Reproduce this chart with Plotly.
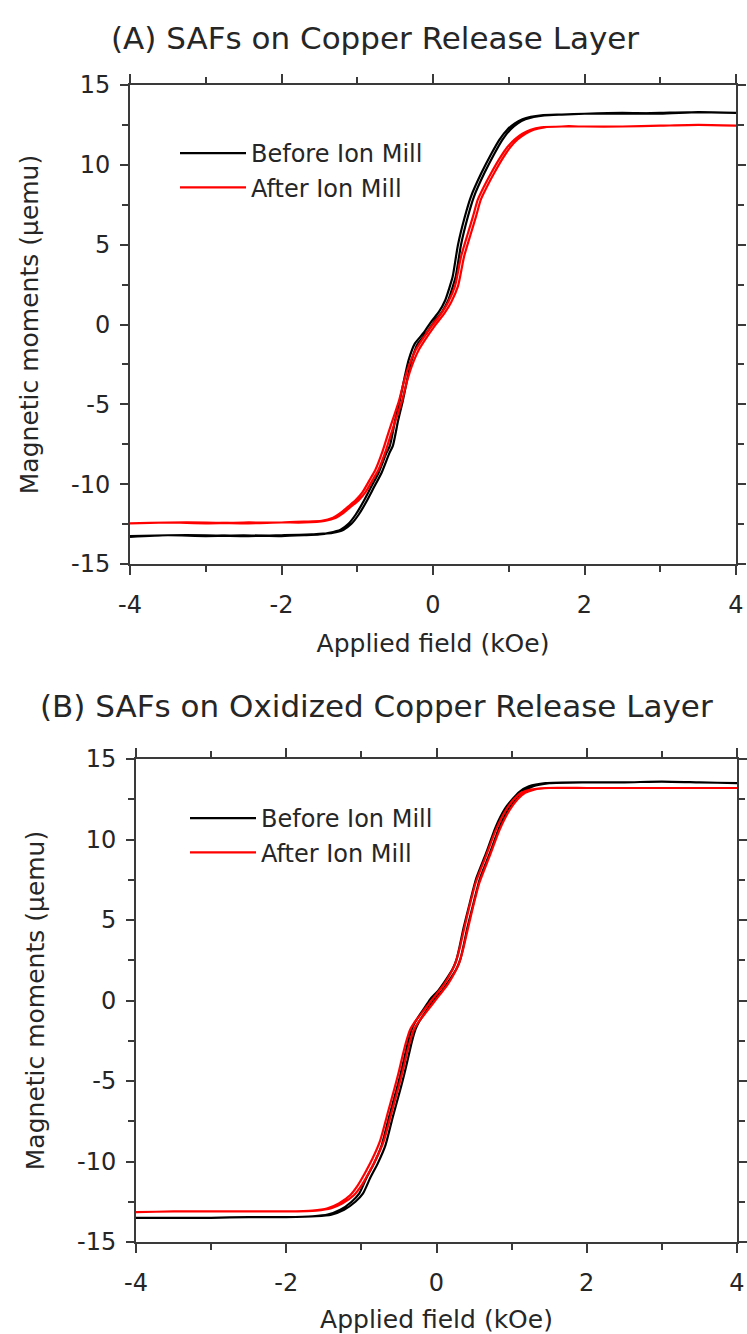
import plotly.graph_objects as go

# ---------------- data ----------------
# Panel A : SAFs on Copper Release Layer
a_before_field_up = [-4.0, -3.5, -3.0, -2.5, -2.0, -1.6, -1.45, -1.33, -1.18, -1.08, -0.98, -0.88, -0.78, -0.68, -0.58,
                     -0.53, -0.46, -0.40, -0.33, -0.28, -0.20, -0.08, 0.02, 0.12, 0.20, 0.25, 0.30, 0.37, 0.46, 0.54,
                     0.68, 0.81, 0.92, 1.02, 1.12, 1.22, 1.33, 1.47, 1.7, 2.0, 2.5, 3.0, 3.5, 4.0]
a_before_moment_up = [-13.25, -13.2, -13.2, -13.25, -13.2, -13.15, -13.1, -13.05, -12.85, -12.5, -11.9, -11.1, -10.2, -9.3, -8.1,
                      -7.6, -6.0, -4.8, -3.2, -2.2, -1.2, -0.5, 0.2, 0.8, 1.5, 2.2, 3.0, 5.0, 6.75, 8.0,
                      9.5, 10.7, 11.6, 12.2, 12.6, 12.85, 13.0, 13.1, 13.15, 13.2, 13.2, 13.25, 13.3, 13.25]
a_before_field_down = [4.0, 3.5, 3.0, 2.5, 2.0, 1.7, 1.43, 1.29, 1.18, 1.08, 0.98, 0.88, 0.77, 0.64, 0.50, 0.42,
                       0.33, 0.26, 0.21, 0.16, 0.08, -0.02, -0.12, -0.24, -0.32, -0.37, -0.44, -0.50, -0.57, -0.62,
                       -0.72, -0.82, -0.92, -1.02, -1.12, -1.22, -1.37, -1.5, -1.7, -2.0, -2.5, -3.0, -3.5, -4.0]
a_before_moment_down = [13.25, 13.3, 13.2, 13.25, 13.2, 13.15, 13.1, 13.0, 12.85, 12.6, 12.2, 11.6, 10.7, 9.5, 8.0, 6.75,
                        5.0, 3.0, 2.2, 1.5, 0.8, 0.2, -0.5, -1.2, -2.2, -3.2, -4.8, -6.0, -7.6, -8.1,
                        -9.3, -10.2, -11.1, -11.9, -12.5, -12.85, -13.05, -13.15, -13.2, -13.25, -13.2, -13.25, -13.2, -13.3]

a_after_field_up = [-4.0, -3.5, -3.0, -2.5, -2.0, -1.7, -1.43, -1.28, -1.18, -1.08, -0.98, -0.89, -0.78, -0.72, -0.63,
                    -0.55, -0.48, -0.41, -0.34, -0.28, -0.20, -0.11, 0.02, 0.15, 0.24, 0.33, 0.41, 0.50, 0.57, 0.63,
                    0.72, 0.81, 0.92, 1.02, 1.12, 1.22, 1.33, 1.47, 1.7, 2.0, 2.5, 3.0, 3.5, 4.0]
a_after_moment_up = [-12.45, -12.4, -12.4, -12.45, -12.4, -12.4, -12.3, -12.1, -11.8, -11.4, -11.0, -10.5, -9.6, -9.1, -8.0,
                     -6.8, -5.8, -4.8, -3.5, -2.6, -1.7, -1.0, -0.1, 0.7, 1.4, 2.4, 4.25, 5.7, 6.8, 7.8,
                     8.7, 9.5, 10.4, 11.1, 11.6, 11.95, 12.2, 12.35, 12.4, 12.4, 12.4, 12.45, 12.5, 12.45]
a_after_field_down = [4.0, 3.5, 3.0, 2.5, 2.0, 1.7, 1.43, 1.29, 1.18, 1.08, 0.98, 0.88, 0.77, 0.68, 0.59, 0.53,
                      0.46, 0.37, 0.29, 0.20, 0.11, -0.02, -0.15, -0.24, -0.32, -0.38, -0.45, -0.52, -0.59, -0.67,
                      -0.76, -0.82, -0.93, -1.02, -1.12, -1.22, -1.32, -1.47, -1.7, -2.0, -2.5, -3.0, -3.5, -4.0]
a_after_moment_down = [12.45, 12.5, 12.45, 12.4, 12.4, 12.4, 12.35, 12.2, 11.95, 11.6, 11.1, 10.4, 9.5, 8.7, 7.8, 6.8,
                       5.7, 4.25, 2.4, 1.4, 0.7, -0.1, -1.0, -1.7, -2.6, -3.5, -4.8, -5.8, -6.8, -8.0,
                       -9.1, -9.6, -10.5, -11.0, -11.4, -11.8, -12.1, -12.3, -12.35, -12.4, -12.4, -12.45, -12.4, -12.45]

# Panel B : SAFs on Oxidized Copper Release Layer
b_before_field_up = [-4.0, -3.5, -3.0, -2.5, -2.0, -1.6, -1.4, -1.23, -1.08, -0.98, -0.88, -0.78, -0.68, -0.58, -0.48,
                     -0.43, -0.38, -0.33, -0.28, -0.23, -0.13, -0.03, 0.07, 0.17, 0.27, 0.32, 0.36, 0.41, 0.49, 0.58,
                     0.71, 0.84, 0.96, 1.06, 1.15, 1.28, 1.5, 2.0, 2.5, 3.0, 3.5, 4.0]
b_before_moment_up = [-13.5, -13.5, -13.5, -13.45, -13.45, -13.4, -13.3, -13.0, -12.5, -12.0, -11.0, -10.1, -9.0, -7.2, -5.5,
                      -4.6, -3.6, -2.6, -1.8, -1.3, -0.6, 0.1, 0.6, 1.25, 2.0, 2.6, 3.4, 4.5, 6.0, 7.6,
                      9.15, 10.8, 11.9, 12.5, 12.95, 13.3, 13.5, 13.55, 13.55, 13.6, 13.55, 13.5]
b_before_field_down = [4.0, 3.5, 3.0, 2.5, 2.0, 1.45, 1.23, 1.10, 1.01, 0.91, 0.79, 0.66, 0.53, 0.44, 0.36, 0.31,
                       0.27, 0.22, 0.12, 0.02, -0.08, -0.18, -0.28, -0.33, -0.38, -0.43, -0.48, -0.53, -0.63, -0.73,
                       -0.83, -0.93, -1.03, -1.13, -1.28, -1.45, -1.65, -2.0, -2.5, -3.0, -3.5, -4.0]
b_before_moment_down = [13.5, 13.55, 13.6, 13.55, 13.55, 13.5, 13.3, 12.95, 12.5, 11.9, 10.8, 9.15, 7.6, 6.0, 4.5, 3.4,
                        2.6, 2.0, 1.25, 0.6, 0.1, -0.6, -1.3, -1.8, -2.6, -3.6, -4.6, -5.5, -7.2, -9.0,
                        -10.1, -11.0, -12.0, -12.5, -13.0, -13.3, -13.4, -13.45, -13.45, -13.5, -13.5, -13.5]

b_after_field_up = [-4.0, -3.5, -3.0, -2.5, -2.0, -1.6, -1.4, -1.25, -1.1, -1.0, -0.9, -0.8, -0.7, -0.6, -0.5,
                    -0.45, -0.4, -0.35, -0.3, -0.25, -0.15, -0.05, 0.05, 0.15, 0.25, 0.3, 0.35, 0.4, 0.48, 0.57,
                    0.71, 0.84, 0.97, 1.08, 1.18, 1.3, 1.5, 2.0, 2.5, 3.0, 3.5, 4.0]
b_after_moment_up = [-13.15, -13.1, -13.1, -13.1, -13.1, -13.05, -12.9, -12.6, -12.1, -11.5, -10.7, -9.8, -8.7, -7.0, -5.3,
                     -4.4, -3.4, -2.5, -1.8, -1.4, -0.8, -0.2, 0.4, 1.0, 1.8, 2.3, 3.1, 4.1, 5.7, 7.3,
                     9.0, 10.6, 11.8, 12.5, 12.9, 13.1, 13.2, 13.2, 13.2, 13.2, 13.2, 13.2]
b_after_field_down = [4.0, 3.5, 3.0, 2.5, 2.0, 1.45, 1.25, 1.13, 1.03, 0.92, 0.79, 0.66, 0.52, 0.43, 0.35, 0.30,
                      0.25, 0.20, 0.10, 0.0, -0.1, -0.2, -0.3, -0.35, -0.4, -0.45, -0.5, -0.55, -0.65, -0.75,
                      -0.85, -0.95, -1.05, -1.15, -1.3, -1.45, -1.65, -2.0, -2.5, -3.0, -3.5, -4.0]
b_after_moment_down = [13.2, 13.2, 13.2, 13.2, 13.2, 13.2, 13.1, 12.9, 12.5, 11.8, 10.6, 9.0, 7.3, 5.7, 4.1, 3.1,
                       2.3, 1.8, 1.0, 0.4, -0.2, -0.8, -1.4, -1.8, -2.5, -3.4, -4.4, -5.3, -7.0, -8.7,
                       -9.8, -10.7, -11.5, -12.1, -12.6, -12.9, -13.05, -13.1, -13.1, -13.1, -13.1, -13.15]

x_tick_vals = [-4, -2, 0, 2, 4]
x_tick_text = ["-4", "-2", "0", "2", "4"]
y_tick_vals = [-15, -10, -5, 0, 5, 10, 15]
y_tick_text = ["-15", "-10", "-5", "0", "5", "10", "15"]

series_names = ["Before Ion Mill", "After Ion Mill"]
series_colors = ["#000000", "#ff0000"]
panel_titles = ["(A) SAFs on Copper Release Layer", "(B) SAFs on Oxidized Copper Release Layer"]
x_title = "Applied field (kOe)"
y_title = "Magnetic moments (\u03bcemu)"

# ---------------- figure ----------------
FONT = "DejaVu Sans"
TXT = "#262626"
AX = "#3a3a3a"
W, H = 747, 1334

fig = go.Figure()

panels = [
    (a_before_field_up + a_before_field_down, a_before_moment_up + a_before_moment_down,
     a_after_field_up + a_after_field_down, a_after_moment_up + a_after_moment_down, "x", "y", "legend"),
    (b_before_field_up + b_before_field_down, b_before_moment_up + b_before_moment_down,
     b_after_field_up + b_after_field_down, b_after_moment_up + b_after_moment_down, "x2", "y2", "legend2"),
]

for bx, by, ax_, ay_, xa, ya, lg in panels:
    fig.add_trace(go.Scatter(x=bx, y=by, mode="lines", name=series_names[0],
                             line=dict(color=series_colors[0], width=2.2, shape="spline", smoothing=0.6),
                             xaxis=xa, yaxis=ya, legend=lg, legendgroup=lg + "a"))
    fig.add_trace(go.Scatter(x=ax_, y=ay_, mode="lines", name=series_names[1],
                             line=dict(color=series_colors[1], width=2.2, shape="spline", smoothing=0.6),
                             xaxis=xa, yaxis=ya, legend=lg, legendgroup=lg + "b"))

def px_x(p):
    return p / W

def px_y(p):
    return 1 - p / H

axis_common = dict(
    showgrid=False, zeroline=False, showline=True, linecolor=AX, linewidth=2,
    mirror="ticks", ticks="outside", tickcolor=AX, tickwidth=2,
    tickfont=dict(family=FONT, size=24, color=TXT), automargin=False,
)

x_common = dict(axis_common, range=[-4, 4], tickmode="array", tickvals=x_tick_vals, ticktext=x_tick_text,
                ticklen=9, ticklabelstandoff=9, ticklabeloverflow="allow",
                minor=dict(ticks="outside", dtick=1, ticklen=6, tickwidth=2, tickcolor=AX),
                title=dict(text=x_title, font=dict(family=FONT, size=25, color=TXT), standoff=17))
y_common = dict(axis_common, range=[-15, 15], tickmode="array", tickvals=y_tick_vals, ticktext=y_tick_text,
                ticklen=8, ticklabelstandoff=5,
                minor=dict(ticks="outside", dtick=2.5, ticklen=6, tickwidth=2, tickcolor=AX),
                title=dict(text=y_title, font=dict(family=FONT, size=25, color=TXT), standoff=25))

legend_common = dict(xanchor="left", yanchor="top", font=dict(family=FONT, size=24, color=TXT),
                     bgcolor="rgba(0,0,0,0)", itemwidth=66, tracegroupgap=0)

fig.update_layout(
    width=W, height=H,
    margin=dict(l=0, r=0, t=0, b=0),
    paper_bgcolor="white", plot_bgcolor="white",
    font=dict(family=FONT, color=TXT),
    showlegend=True,
    xaxis=dict(x_common, domain=[px_x(130), px_x(736)], anchor="y"),
    yaxis=dict(y_common, domain=[px_y(564), px_y(85)], anchor="x"),
    xaxis2=dict(x_common, domain=[px_x(136), px_x(737)], anchor="y2"),
    yaxis2=dict(y_common, domain=[px_y(1242), px_y(759)], anchor="x2"),
    legend=dict(legend_common, x=px_x(175), y=px_y(131)),
    legend2=dict(legend_common, x=px_x(185), y=px_y(796)),
    annotations=[
        dict(text=panel_titles[0], x=px_x(375), y=px_y(38), xref="paper", yref="paper",
             xanchor="center", yanchor="middle", showarrow=False,
             font=dict(family=FONT, size=31, color=TXT)),
        dict(text=panel_titles[1], x=px_x(377), y=px_y(706), xref="paper", yref="paper",
             xanchor="center", yanchor="middle", showarrow=False,
             font=dict(family=FONT, size=31, color=TXT)),
    ],
)

fig.write_html("out.html")
